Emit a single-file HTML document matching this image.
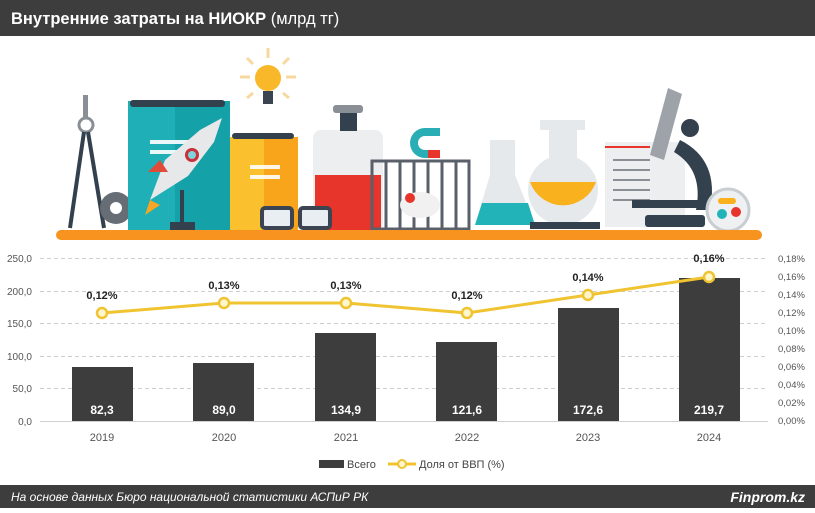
<!DOCTYPE html>
<html><head><meta charset="utf-8"><style>
html,body{margin:0;padding:0;background:#fff;}
body{width:815px;height:508px;overflow:hidden;font-family:"Liberation Sans","DejaVu Sans",sans-serif;}
</style></head><body>
<svg width="815" height="508" viewBox="0 0 815 508" xmlns="http://www.w3.org/2000/svg" font-family="Liberation Sans, DejaVu Sans, sans-serif">
<rect x="0" y="0" width="815" height="508" fill="#fff"/>
<rect x="0" y="0" width="815" height="36" fill="#3d3d3d"/>
<text x="11" y="24" fill="#fff" font-size="16.5"><tspan font-weight="bold">Внутренние затраты на НИОКР</tspan> (млрд тг)</text>
<rect x="0" y="485" width="815" height="23" fill="#3d3d3d"/>
<text x="11" y="501" fill="#fff" font-size="12" font-style="italic">На основе данных Бюро национальной статистики АСПиР РК</text>
<text x="805" y="502" fill="#fff" font-size="14" font-style="italic" font-weight="bold" text-anchor="end">Finprom.kz</text>

<g>
<circle cx="268" cy="78" r="13" fill="#f8b82a"/>
<rect x="263" y="91" width="10" height="13" fill="#3b4450"/>
<g stroke="#f7d9a0" stroke-width="3"><line x1="268" y1="48" x2="268" y2="58"/><line x1="240" y1="77" x2="250" y2="77"/><line x1="286" y1="77" x2="296" y2="77"/><line x1="247" y1="58" x2="253" y2="64"/><line x1="289" y1="58" x2="283" y2="64"/><line x1="247" y1="98" x2="253" y2="93"/><line x1="289" y1="98" x2="283" y2="93"/></g>
<rect x="83" y="95" width="5" height="22" fill="#8a8f96"/>
<circle cx="86" cy="125" r="7" fill="none" stroke="#8a8f96" stroke-width="3"/>
<line x1="84" y1="132" x2="70" y2="228" stroke="#33404e" stroke-width="4"/>
<line x1="88" y1="132" x2="104" y2="228" stroke="#33404e" stroke-width="4"/>
<circle cx="116" cy="208" r="16" fill="#676d75"/><circle cx="116" cy="208" r="6" fill="#fff"/>
<rect x="128" y="101" width="102" height="129" fill="#1fb0b7"/>
<rect x="175" y="101" width="55" height="129" fill="#15a1a8"/>
<rect x="130" y="100" width="95" height="7" rx="3" fill="#33404e"/>
<rect x="150" y="140" width="45" height="4" fill="#fff" opacity=".9"/><rect x="150" y="150" width="40" height="4" fill="#fff" opacity=".9"/>
<polygon points="150,200 165,160 200,130 222,118 214,142 188,176" fill="#e6e8ea"/>
<circle cx="192" cy="155" r="7" fill="#c8313a"/><circle cx="192" cy="155" r="4" fill="#7fd3dd"/>
<polygon points="150,200 145,215 160,205" fill="#f6a623"/>
<polygon points="160,160 148,172 168,172" fill="#e04b3a"/>
<rect x="180" y="190" width="4" height="32" fill="#33404e"/><rect x="170" y="222" width="25" height="8" fill="#33404e"/>
<rect x="230" y="137" width="68" height="93" fill="#fbc02d"/>
<rect x="264" y="137" width="34" height="93" fill="#f8a51c"/>
<rect x="232" y="133" width="62" height="6" rx="3" fill="#33404e"/>
<rect x="250" y="165" width="30" height="4" fill="#fff" opacity=".9"/><rect x="250" y="175" width="30" height="4" fill="#fff" opacity=".9"/>
<rect x="313" y="130" width="70" height="100" rx="8" fill="#eceef0"/>
<rect x="333" y="105" width="30" height="8" rx="3" fill="#8a8f96"/>
<rect x="340" y="113" width="17" height="18" fill="#33404e"/>
<rect x="315" y="175" width="66" height="55" fill="#e7352c"/>
<rect x="262" y="208" width="30" height="20" rx="3" fill="#e8eef2" stroke="#3b4450" stroke-width="4"/>
<rect x="300" y="208" width="30" height="20" rx="3" fill="#e8eef2" stroke="#3b4450" stroke-width="4"/>
<path d="M440,128 h-15 a15,15 0 0 0 0,30 h15 v-8 h-15 a7,7 0 0 1 0,-14 h15z" fill="#2aaeb5"/>
<rect x="428" y="150" width="12" height="8" fill="#e7352c"/>
<g fill="none" stroke="#59606a" stroke-width="3"><rect x="372" y="161" width="97" height="68"/><line x1="386" y1="161" x2="386" y2="229"/><line x1="400" y1="161" x2="400" y2="229"/><line x1="414" y1="161" x2="414" y2="229"/><line x1="428" y1="161" x2="428" y2="229"/><line x1="442" y1="161" x2="442" y2="229"/><line x1="456" y1="161" x2="456" y2="229"/></g>
<ellipse cx="420" cy="205" rx="20" ry="13" fill="#f1f1f1"/><circle cx="410" cy="198" r="5" fill="#e7352c"/>
<polygon points="490,140 515,140 515,175 535,225 475,225 490,175" fill="#e6e9ec"/>
<polygon points="482,203 528,203 535,225 475,225" fill="#22b3b9"/>
<rect x="540" y="120" width="45" height="10" fill="#e6e9ec"/>
<rect x="549" y="130" width="28" height="35" fill="#e6e9ec"/>
<circle cx="563" cy="190" r="35" fill="#e6e9ec"/>
<path d="M530,182 h66 a35,35 0 0 1 -66,0z" fill="#fab11e"/>
<rect x="530" y="222" width="70" height="7" fill="#33404e"/>
<rect x="605" y="142" width="80" height="85" fill="#eceef0"/>
<g stroke="#8a8f96" stroke-width="2"><line x1="613" y1="160" x2="650" y2="160"/><line x1="613" y1="170" x2="650" y2="170"/><line x1="613" y1="180" x2="650" y2="180"/><line x1="613" y1="190" x2="650" y2="190"/><line x1="613" y1="200" x2="650" y2="200"/></g>
<line x1="605" y1="147" x2="650" y2="147" stroke="#e7352c" stroke-width="2"/>
<polygon points="668,88 682,94 664,160 650,155" fill="#9ea3a9"/>
<path d="M680,140 q40,20 30,70 h-14 q8,-40 -22,-58z" fill="#33404e"/>
<rect x="632" y="200" width="70" height="8" fill="#33404e"/>
<rect x="645" y="215" width="60" height="12" rx="3" fill="#33404e"/>
<circle cx="690" cy="128" r="9" fill="#33404e"/>
<circle cx="728" cy="210" r="21" fill="#eef0f2" stroke="#c9ced3" stroke-width="3"/>
<circle cx="722" cy="214" r="5" fill="#22b3b9"/><circle cx="736" cy="212" r="5" fill="#e7352c"/><rect x="718" y="198" width="18" height="6" rx="3" fill="#fab11e"/>
<rect x="56" y="230" width="706" height="10" rx="5" fill="#f7931e"/>
</g>

<g stroke="#cfcfcf" stroke-width="1" stroke-dasharray="4,3">
<line x1="40" y1="258.5" x2="768" y2="258.5"/>
<line x1="40" y1="291.5" x2="768" y2="291.5"/>
<line x1="40" y1="323.5" x2="768" y2="323.5"/>
<line x1="40" y1="356.5" x2="768" y2="356.5"/>
<line x1="40" y1="388.5" x2="768" y2="388.5"/>
</g>
<line x1="40" y1="421.5" x2="768" y2="421.5" stroke="#d0d0d0"/>
<g font-size="10" fill="#555" text-anchor="end">
<text x="32" y="262">250,0</text><text x="32" y="295">200,0</text><text x="32" y="327">150,0</text><text x="32" y="360">100,0</text><text x="32" y="392">50,0</text><text x="32" y="425">0,0</text>
</g>
<g font-size="9.5" fill="#555">
<text x="778" y="262">0,18%</text><text x="778" y="280">0,16%</text><text x="778" y="298">0,14%</text><text x="778" y="316">0,12%</text><text x="778" y="334">0,10%</text><text x="778" y="352">0,08%</text><text x="778" y="370">0,06%</text><text x="778" y="388">0,04%</text><text x="778" y="406">0,02%</text><text x="778" y="424">0,00%</text>
</g>
<g fill="#3d3d3d">
<rect x="72" y="367" width="61" height="54"/>
<rect x="193" y="363" width="61" height="58"/>
<rect x="315" y="333" width="61" height="88"/>
<rect x="436" y="342" width="61" height="79"/>
<rect x="558" y="308" width="61" height="113"/>
<rect x="679" y="278" width="61" height="143"/>
</g>
<g font-size="12" fill="#fff" font-weight="bold" text-anchor="middle">
<text x="102" y="414">82,3</text><text x="224" y="414">89,0</text><text x="346" y="414">134,9</text><text x="467" y="414">121,6</text><text x="588" y="414">172,6</text><text x="709" y="414">219,7</text>
</g>
<g font-size="11" fill="#555" text-anchor="middle">
<text x="102" y="441">2019</text><text x="224" y="441">2020</text><text x="346" y="441">2021</text><text x="467" y="441">2022</text><text x="588" y="441">2023</text><text x="709" y="441">2024</text>
</g>
<polyline points="102,313 224,303 346,303 467,313 588,295 709,277" fill="none" stroke="#f0c330" stroke-width="3"/>
<g fill="#fff6cc" stroke="#f0c330" stroke-width="2.5">
<circle cx="102" cy="313" r="5"/><circle cx="224" cy="303" r="5"/><circle cx="346" cy="303" r="5"/><circle cx="467" cy="313" r="5"/><circle cx="588" cy="295" r="5"/><circle cx="709" cy="277" r="5"/>
</g>
<g font-size="11" font-weight="bold" fill="#222" text-anchor="middle">
<text x="102" y="299">0,12%</text><text x="224" y="289">0,13%</text><text x="346" y="289">0,13%</text><text x="467" y="299">0,12%</text><text x="588" y="281">0,14%</text><text x="709" y="262">0,16%</text>
</g>
<rect x="319" y="460" width="25" height="8" fill="#3d3d3d"/>
<text x="347" y="468" font-size="11" fill="#444">Всего</text>
<line x1="388" y1="464" x2="416" y2="464" stroke="#f0c330" stroke-width="3"/>
<circle cx="402" cy="464" r="4" fill="#fff6cc" stroke="#f0c330" stroke-width="2"/>
<text x="419" y="468" font-size="11" fill="#444">Доля от ВВП (%)</text>
</svg>
</body></html>
